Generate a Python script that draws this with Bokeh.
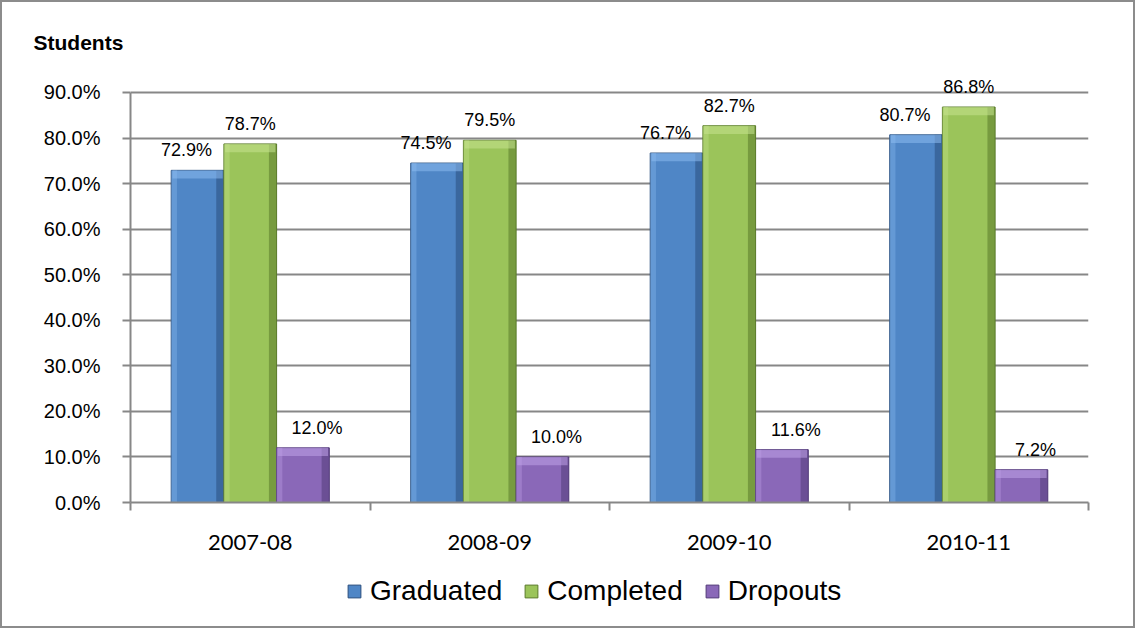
from bokeh.plotting import figure
from bokeh.layouts import column
from bokeh.models import (FixedTicker, Legend, LegendItem, ColumnDataSource,
                          Range1d, PrintfTickFormatter)
from bokeh.core.properties import value
from bokeh.embed import file_html
from bokeh.resources import INLINE

# ---- data ----
categories = ["2007-08", "2008-09", "2009-10", "2010-11"]
graduated = [72.9, 74.5, 76.7, 80.7]
completed = [78.7, 79.5, 82.7, 86.8]
dropouts = [12.0, 10.0, 11.6, 7.2]
series_names = ["Graduated", "Completed", "Dropouts"]
y_ticks = [0, 10, 20, 30, 40, 50, 60, 70, 80, 90]
y_axis_max = 90

# ---- style ----
main_cols = ["#4f86c6", "#9bc45a", "#8a68b8"]
dark_cols = ["#2a4e7d", "#5a7a2a", "#523a78"]
light_cols = ["#8dbcf0", "#c6e490", "#c0a2e8"]
label_dx = [-11, 0, 14]
W = 0.22
GRID = "#878787"
FONT = "Liberation Sans"

p = figure(width=1131, height=562, output_backend="svg", toolbar_location=None,
           x_range=Range1d(0, len(categories)), y_range=Range1d(0, 93.5),
           min_border_left=128, min_border_right=45, min_border_top=74,
           min_border_bottom=62)
p.outline_line_color = None
p.background_fill_color = "white"
p.border_fill_color = "white"

p.title.text = "Students"
p.title.align = "left"
p.title.offset = -97
p.title.standoff = 46
p.title.text_font = FONT
p.title.text_font_size = "21px"
p.title.text_font_style = "bold"
p.title.text_color = "black"

centers = [i + 0.5 for i in range(len(categories))]
offsets = [-W, 0.0, W]
all_series = [graduated, completed, dropouts]

sources = []
for k, vals in enumerate(all_series):
    xs = [c + offsets[k] for c in centers]
    src = ColumnDataSource(dict(
        x=xs, top=vals,
        xr=[x + W / 2 - 0.016 for x in xs],
        xl=[x - W / 2 + 0.012 for x in xs],
        capb=[v - 1.8 for v in vals],
        lab=[f"{v:.1f}%" for v in vals]))
    sources.append(src)
    p.vbar(x="x", top="top", bottom=0, width=W, source=src,
           fill_color=main_cols[k], line_color=dark_cols[k], line_width=1)
    p.vbar(x="xr", top="top", bottom=0, width=0.032, source=src,
           fill_color=dark_cols[k], fill_alpha=0.55, line_color=None)
    p.vbar(x="xl", top="top", bottom=0, width=0.024, source=src,
           fill_color=light_cols[k], fill_alpha=0.35, line_color=None)
    p.vbar(x="x", top="top", bottom="capb", width=W - 0.01, source=src,
           fill_color=light_cols[k], fill_alpha=0.55, line_color=None)
    p.text(x="x", y="top", text="lab", source=src, x_offset=label_dx[k], y_offset=-20,
           text_align="center", text_baseline="alphabetic",
           text_font=value(FONT), text_font_size="18px", text_color="black")

# axes
xa = p.xaxis[0]
xa.ticker = FixedTicker(ticks=centers, minor_ticks=list(range(len(categories) + 1)))
xa.major_label_overrides = {c: cat for c, cat in zip(centers, categories)}
xa.major_tick_out = 0
xa.major_tick_in = 0
xa.minor_tick_out = 8
xa.minor_tick_in = 0
xa.minor_tick_line_color = GRID
xa.minor_tick_line_width = 2
xa.axis_line_color = GRID
xa.axis_line_width = 2
xa.major_label_text_font = "Lato"
xa.major_label_text_font_size = "22px"
xa.major_label_text_color = "black"
xa.major_label_standoff = 24

ya = p.yaxis[0]
ya.bounds = (0, y_axis_max)
ya.ticker = FixedTicker(ticks=y_ticks)
ya.formatter = PrintfTickFormatter(format="%.1f%%")
ya.major_tick_out = 8
ya.major_tick_in = 0
ya.minor_tick_line_color = None
ya.major_tick_line_color = GRID
ya.major_tick_line_width = 2
ya.axis_line_color = GRID
ya.axis_line_width = 2
ya.major_label_text_font = FONT
ya.major_label_text_font_size = "20px"
ya.major_label_text_color = "black"
ya.major_label_standoff = 22

p.xgrid.visible = False
p.ygrid.ticker = FixedTicker(ticks=y_ticks)
p.ygrid.grid_line_color = GRID
p.ygrid.grid_line_width = 2

# ---- legend strip below the chart (bars fall outside its visible range) ----
p2 = figure(width=1131, height=62, output_backend="svg", toolbar_location=None,
            x_range=Range1d(0, len(categories)), y_range=Range1d(200, 201),
            x_axis_type=None, y_axis_type=None,
            min_border_left=128, min_border_right=45, min_border_top=0, min_border_bottom=0)
p2.outline_line_color = None
p2.background_fill_color = "white"
p2.border_fill_color = "white"

legend_items = []
for k, name in enumerate(series_names):
    r = p2.vbar(x="x", top="top", bottom=0, width=W, source=sources[k],
                fill_color=main_cols[k], line_color=dark_cols[k], line_width=1)
    legend_items.append(LegendItem(label=name, renderers=[r]))

legend = Legend(items=legend_items, orientation="horizontal", location=(216, 19),
                glyph_width=16, glyph_height=16, label_standoff=8, spacing=21,
                padding=0, margin=0, border_line_color=None, background_fill_alpha=0,
                label_text_font=FONT, label_text_font_size="28px", label_text_color="black")
p2.add_layout(legend, "center")

layout = column(p, p2, spacing=0, styles={"border": "2px solid #8c8c8c"})

open("out.html", "w").write(file_html(layout, INLINE))
